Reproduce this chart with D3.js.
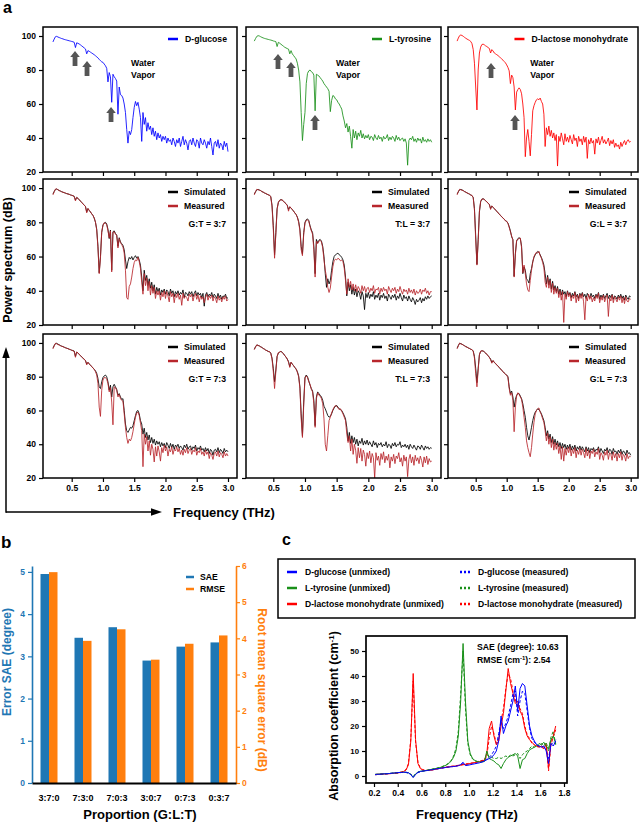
<!DOCTYPE html>
<html lang="en">
<head>
<meta charset="UTF-8">
<title>THz spectra figure</title>
<script src="https://d3js.org/d3.v7.min.js"></script>
<style>
  body { margin: 0; background: #fff; }
  svg text { font-weight: bold; }
</style>
</head>
<body>
<div id="chart"></div>
<script>
// ---- panel a: power spectra (dB), sampled every 0.02 THz from 0.20 to 3.00 ----
const F0 = 0.2, DF = 0.02;

const glucose = [
  96.5, 98.2, 99.6, 99.8, 99.4, 99.1, 98.8, 98.5, 98.3, 98.0,
  97.8, 97.6, 97.4, 97.2, 97.0, 96.8, 96.6, 96.3, 93.2, 96.0,
  95.7, 95.3, 94.8, 94.2, 93.6, 93.0, 92.4, 89.5, 91.4, 91.0,
  90.5, 90.0, 89.5, 89.0, 88.4, 87.8, 87.0, 86.3, 85.5, 84.8,
  84.5, 83.5, 82.5, 81.0, 73.0, 78.5, 76.0, 61.0, 77.5, 76.0,
  75.0, 73.5, 54.0, 70.0, 65.5, 65.0, 63.5, 60.0, 55.0, 45.0,
  37.0, 44.0, 42.0, 45.0, 52.0, 58.0, 61.5, 59.0, 61.0, 57.0,
  52.0, 38.0, 55.0, 48.0, 52.0, 44.0, 49.0, 45.0, 47.0, 42.0,
  46, 41, 44, 39, 43, 40, 42, 38, 41, 39,
  41, 37, 40, 38, 39, 36, 40, 38, 35, 39,
  37, 40, 35, 38, 41, 36, 39, 37, 33, 38,
  39, 36, 40, 37, 35, 39, 38, 34, 40, 37,
  36, 39, 37, 34, 38, 36, 40, 35, 30, 37,
  38, 35, 39, 34, 37, 36, 33, 38, 35, 37,
  32
];
const tyrosine = [
  97.0, 98.5, 99.8, 100.2, 100.0, 99.6, 99.2, 98.9, 98.6, 98.4,
  98.2, 98.0, 97.8, 97.6, 97.4, 97.1, 96.9, 96.7, 93.8, 96.3,
  95.8, 95.2, 94.6, 94.0, 93.4, 93.0, 92.6, 92.3, 89.5, 91.4,
  89.5, 88.5, 87.5, 86.5, 84.0, 80.0, 73.0, 55.0, 38.5, 48.0,
  55.0, 72.0, 78.0, 79.5, 80.0, 79.0, 78.5, 77.0, 56.0, 77.5,
  77.0, 76.5, 75.5, 74.5, 73.5, 72.0, 71.0, 70.0, 69.0, 67.5,
  55.5, 62.0, 65.0, 64.5, 63.0, 62.5, 61.0, 60.0, 58.5, 57.0,
  53.0, 50.0, 46.0, 48.5, 43.5, 47.0, 41.0, 34.0, 45.0, 40.0,
  44.0, 39.0, 43.0, 41.0, 44.5, 40.0, 42.5, 39.5, 41.5, 40.0,
  42.0, 39.0, 41.0, 40.5, 38.5, 42.0, 40.0, 39.0, 41.5, 39.5,
  40.5, 38.0, 41.0, 39.5, 40.0, 42.0, 38.5, 40.5, 39.0, 41.0,
  40.0, 38.0, 41.5, 39.0, 40.5, 38.5, 39.5, 40.0, 38.0, 39.5,
  37.0, 24.0, 38.5, 40.0, 39.0, 41.0, 38.0, 39.5, 37.5, 40.0,
  38.5, 39.5, 37.0, 40.5, 38.0, 39.0, 37.5, 39.5, 38.0, 39.0,
  37.5
];
const lactose = [
  97.0, 98.8, 100.2, 100.6, 100.3, 99.8, 99.2, 98.7, 98.2, 97.8,
  97.4, 96.8, 95.5, 92.0, 84.0, 70.0, 56.5, 80.0, 90.0, 93.5,
  95.0, 95.2, 94.8, 94.2, 93.8, 93.2, 92.7, 90.0, 92.0, 91.2,
  90.0, 89.5, 89.0, 88.5, 87.8, 87.2, 86.5, 85.8, 85.0, 84.2,
  83.0, 81.5, 79.5, 72.0, 77.0, 75.5, 70.0, 56.5, 67.0, 68.5,
  69.5, 68.5, 66.0, 60.0, 52.0, 29.0, 40.0, 45.0, 38.0, 29.5,
  42.0, 56.0, 59.0, 61.0, 62.5, 63.0, 62.5, 63.5, 61.5, 60.0,
  54.0, 35.0, 46.0, 42.0, 47.0, 41.0, 44.5, 40.0, 43.0, 38.5,
  42.0, 23.5, 41.0, 38.0, 43.0, 39.5, 36.0, 42.5, 38.0, 40.5,
  37.5, 41.5, 39.0, 36.5, 42.0, 38.5, 40.0, 35.0, 41.0, 38.0,
  39.5, 36.0, 41.0, 37.5, 40.5, 28.0, 39.0, 36.5, 40.0, 37.0,
  38.5, 30.5, 39.5, 37.0, 40.5, 36.0, 38.5, 41.0, 37.0, 39.0,
  36.5, 38.0, 40.0, 35.5, 38.5, 36.5, 39.0, 34.5, 37.0, 35.0,
  36.0, 33.5, 37.5, 35.0, 37.0, 38.5, 36.0, 38.0, 39.0, 37.5,
  38.0
];

const gt37Sim = [
  96.5, 98.0, 99.2, 99.4, 99.0, 98.6, 98.2, 97.9, 97.6, 97.3,
  97.0, 96.8, 96.6, 96.3, 96.0, 95.8, 95.5, 95.2, 93.0, 94.5,
  94.0, 93.2, 92.4, 91.6, 90.8, 90.0, 89.3, 86.0, 88.0, 87.0,
  86.0, 85.0, 84.0, 82.5, 80.0, 76.0, 66.0, 50.5, 60.0, 74.0,
  78.5, 79.5, 80.0, 79.0, 76.0, 70.5, 75.5, 52.0, 74.5, 75.0,
  73.5, 72.5, 66.0, 71.0, 68.5, 67.5, 66.5, 64.0, 58.0, 53.0,
  57.0, 59.5, 58.5, 60.0, 58.0, 59.5, 60.5, 59.0, 60.0, 58.0,
  55.0, 48.0, 40.0, 52.0, 46.0, 49.0, 43.0, 47.0, 41.5, 45.0,
  40.0, 43.5, 38.0, 42.0, 39.5, 41.5, 37.5, 40.5, 39.0, 41.0,
  38.0, 40.5, 39.5, 37.0, 41.0, 38.5, 40.0, 36.5, 39.5, 38.0,
  40.0, 37.5, 39.0, 38.0, 40.5, 36.0, 39.0, 38.5, 37.0, 39.5,
  38.0, 39.5, 36.5, 38.5, 40.0, 37.0, 39.0, 37.5, 38.5, 36.0,
  38.5, 31.0, 37.5, 39.0, 36.5, 38.0, 37.0, 39.0, 36.0, 38.0,
  37.0, 35.5, 38.5, 36.0, 37.5, 35.0, 37.0, 36.5, 38.0, 35.5,
  36.0
];
const gt37Meas = [
  96.0, 97.8, 99.4, 99.6, 99.0, 98.5, 98.3, 97.8, 97.5, 97.4,
  97.1, 96.7, 96.5, 96.4, 96.0, 95.7, 95.6, 95.0, 92.5, 94.6,
  93.9, 93.3, 92.3, 91.7, 90.7, 90.1, 89.2, 85.5, 88.1, 86.9,
  86.1, 84.9, 84.1, 82.4, 80.2, 75.5, 65.0, 50.0, 59.0, 74.5,
  78.0, 79.8, 79.5, 78.5, 75.0, 71.0, 75.0, 51.0, 74.0, 74.5,
  73.0, 72.5, 65.0, 70.5, 68.0, 67.0, 65.5, 62.0, 52.0, 36.0,
  35.0, 42.5, 44.0, 48.0, 53.0, 56.5, 58.0, 57.5, 59.5, 57.0,
  53.0, 45.0, 38.0, 50.0, 43.0, 47.5, 40.0, 45.5, 37.5, 43.0,
  38.5, 42.0, 35.5, 40.0, 37.5, 40.0, 34.5, 39.0, 36.5, 40.0,
  35.5, 39.5, 37.0, 33.5, 39.5, 36.5, 38.5, 33.0, 38.0, 36.0,
  38.5, 35.0, 37.5, 31.5, 38.5, 35.5, 37.0, 36.0, 34.0, 38.0,
  36.5, 38.0, 34.0, 37.0, 38.5, 35.0, 37.5, 33.5, 37.0, 35.0,
  36.5, 33.0, 36.0, 38.0, 34.5, 37.0, 35.5, 37.5, 34.0, 36.5,
  35.5, 33.0, 37.0, 34.5, 36.0, 33.5, 36.5, 35.0, 37.0, 34.0,
  35.0
];
const tl37Sim = [
  96.5, 97.8, 99.0, 99.2, 98.9, 98.5, 98.0, 97.6, 97.2, 96.8,
  96.4, 96.1, 95.8, 95.0, 90.0, 78.0, 61.0, 74.0, 88.0, 91.5,
  92.8, 93.3, 93.0, 92.3, 91.6, 90.9, 90.0, 87.5, 89.0, 88.3,
  87.5, 86.5, 85.5, 84.5, 83.0, 80.5, 76.0, 66.0, 61.5, 74.0,
  80.0, 81.5, 82.0, 81.0, 78.0, 75.5, 74.0, 66.0, 50.0, 70.0,
  68.0, 69.5, 70.0, 69.0, 66.0, 60.0, 50.0, 42.0, 47.0, 44.0,
  46.0, 52.0, 57.0, 60.0, 61.0, 61.5, 62.0, 61.0, 60.5, 59.5,
  58.0, 55.0, 48.0, 37.0, 45.0, 40.0, 43.5, 38.0, 42.0, 37.5,
  41.0, 36.5, 40.0, 38.5, 35.0, 39.5, 37.0, 29.0, 38.5, 36.0,
  39.0, 35.5, 38.0, 36.5, 39.5, 35.0, 37.5, 36.0, 38.5, 34.5,
  37.5, 36.0, 38.5, 35.5, 37.0, 34.0, 38.0, 36.5, 35.0, 37.5,
  36.0, 38.0, 34.5, 37.0, 35.5, 38.5, 36.0, 34.0, 37.5, 35.5,
  36.5, 34.0, 37.0, 35.0, 33.5, 36.0, 34.5, 32.0, 35.0, 33.5,
  34.5, 36.0, 33.0, 35.5, 34.0, 36.5, 35.0, 37.0, 35.5, 36.5,
  37.0
];
const tl37Meas = [
  96.0, 98.0, 99.3, 99.0, 98.7, 98.6, 97.8, 97.7, 97.1, 96.9,
  96.5, 96.0, 95.9, 94.8, 89.0, 76.0, 59.0, 73.0, 87.5, 91.8,
  92.9, 93.0, 93.2, 92.1, 91.7, 90.7, 89.9, 86.5, 89.1, 88.4,
  87.3, 86.6, 85.4, 84.6, 82.8, 80.0, 75.0, 64.0, 60.5, 73.0,
  79.5, 81.0, 81.5, 80.5, 77.5, 75.0, 73.0, 64.0, 48.0, 69.0,
  67.5, 69.0, 69.5, 68.5, 65.0, 58.0, 52.0, 48.0, 42.0, 39.0,
  41.5, 48.0, 54.0, 57.5, 58.5, 58.0, 59.0, 58.5, 57.5, 58.0,
  57.0, 53.0, 46.0, 38.0, 47.0, 42.0, 45.5, 40.5, 44.0, 40.0,
  43.5, 39.5, 42.5, 41.0, 38.5, 43.0, 40.0, 42.5, 39.0, 41.5,
  42.0, 39.0, 41.5, 40.0, 43.0, 38.5, 41.0, 40.5, 42.0, 38.0,
  41.5, 39.5, 42.0, 40.0, 41.0, 38.0, 42.5, 40.5, 39.0, 41.5,
  40.0, 42.0, 38.5, 41.0, 39.5, 42.5, 40.0, 38.0, 41.0, 39.5,
  40.5, 38.0, 41.5, 39.0, 40.5, 38.5, 41.0, 37.5, 40.0, 38.5,
  39.0, 41.0, 38.0, 40.5, 39.5, 41.5, 38.5, 40.0, 37.5, 39.5,
  39.5
];
const gl37Sim = [
  96.5, 97.8, 99.0, 99.2, 98.9, 98.5, 98.0, 97.6, 97.2, 96.8,
  96.4, 96.0, 95.6, 94.5, 88.0, 72.0, 55.5, 70.0, 86.0, 92.0,
  93.5, 93.8, 93.3, 92.6, 91.9, 91.2, 90.4, 88.0, 89.5, 88.8,
  88.0, 87.2, 86.4, 85.6, 84.8, 84.0, 83.2, 82.5, 81.8, 81.0,
  80.5, 79.5, 77.5, 75.0, 71.5, 70.0, 48.5, 62.0, 69.0, 70.5,
  71.0, 70.5, 66.0, 50.0, 54.0, 52.0, 47.0, 46.0, 44.5, 50.0,
  53.0, 57.0, 59.5, 61.0, 62.0, 63.0, 62.5, 61.0, 59.5, 57.5,
  55.0, 50.0, 44.0, 49.0, 43.5, 47.0, 41.0, 45.5, 40.5, 43.0,
  39.5, 42.5, 38.0, 41.0, 37.5, 40.5, 38.0, 39.5, 36.5, 40.0,
  37.5, 39.0, 36.0, 38.5, 37.0, 39.5, 36.5, 38.0, 35.5, 38.5,
  37.0, 39.0, 36.5, 38.0, 35.5, 38.5, 37.0, 36.0, 38.5, 36.5,
  37.5, 35.5, 38.0, 36.5, 39.0, 35.0, 37.5, 36.0, 38.0, 35.5,
  37.0, 38.5, 35.5, 37.5, 36.0, 38.0, 35.0, 37.0, 36.5, 35.0,
  37.5, 36.0, 38.0, 35.5, 37.0, 34.5, 37.5, 36.0, 35.0, 37.0,
  36.5
];
const gl37Meas = [
  96.0, 98.0, 99.3, 99.0, 98.7, 98.6, 97.8, 97.7, 97.1, 96.9,
  96.5, 95.9, 95.7, 94.3, 87.0, 70.0, 55.0, 69.0, 86.5, 92.3,
  93.6, 93.6, 93.4, 92.5, 92.0, 91.1, 90.5, 87.5, 89.6, 88.7,
  88.1, 87.1, 86.5, 85.5, 84.9, 83.9, 83.3, 82.4, 81.9, 80.8,
  80.6, 79.4, 77.0, 74.5, 72.0, 69.5, 48.0, 61.0, 69.5, 70.0,
  70.5, 70.8, 65.0, 50.5, 55.0, 50.0, 44.0, 40.5, 39.5, 46.0,
  52.0, 56.5, 60.0, 61.5, 62.5, 62.0, 63.0, 60.5, 59.0, 56.5,
  53.5, 45.0, 42.0, 48.0, 41.5, 46.0, 39.0, 44.5, 38.0, 42.0,
  38.5, 41.5, 36.0, 40.0, 34.5, 39.5, 21.5, 38.0, 35.0, 39.5,
  36.5, 38.5, 34.0, 37.5, 35.5, 39.0, 33.0, 37.5, 34.0, 38.0,
  35.5, 38.5, 33.5, 23.0, 36.5, 34.0, 38.0, 35.0, 37.0, 33.5,
  36.0, 34.0, 37.5, 35.5, 38.5, 33.0, 36.5, 34.5, 37.5, 33.5,
  36.0, 37.5, 25.0, 36.0, 34.0, 37.5, 33.0, 36.5, 35.0, 33.5,
  36.5, 34.5, 37.0, 33.0, 36.0, 32.5, 36.5, 34.0, 33.5, 35.5,
  35.0
];
const gt73Sim = [
  96.9, 98.5, 99.6, 99.8, 99.3, 98.9, 98.5, 98.1, 97.8, 97.5,
  97.2, 96.9, 96.6, 96.3, 96.0, 95.7, 95.5, 95.2, 92.0, 94.6,
  94.0, 93.3, 92.5, 91.7, 91.0, 90.3, 89.6, 87.5, 88.5, 87.6,
  86.8, 86.0, 85.2, 84.4, 83.5, 82.0, 79.0, 74.0, 73.0, 77.0,
  79.5, 80.5, 81.0, 80.0, 77.0, 72.0, 75.0, 68.0, 74.0, 75.5,
  74.0, 72.5, 69.0, 70.0, 68.0, 66.5, 67.0, 60.0, 52.0, 48.0,
  47.0, 48.5, 50.0, 49.5, 51.0, 54.0, 57.0, 59.5, 60.0, 58.0,
  54.0, 52.0, 46.0, 49.5, 44.0, 47.0, 42.5, 45.5, 41.0, 44.0,
  40.5, 43.0, 39.5, 42.0, 40.0, 41.5, 38.5, 41.0, 39.0, 40.5,
  38.0, 41.0, 39.5, 37.5, 40.5, 38.0, 40.0, 37.0, 39.5, 38.5,
  40.0, 37.5, 39.0, 38.0, 36.5, 39.5, 38.0, 40.0, 37.0, 38.5,
  39.0, 36.5, 38.5, 37.5, 39.5, 36.0, 38.0, 37.0, 39.0, 36.5,
  37.5, 35.5, 38.0, 36.0, 37.5, 34.5, 37.0, 36.0, 33.5, 36.5,
  37.0, 35.5, 38.0, 35.0, 37.0, 36.0, 34.5, 37.5, 35.5, 36.5,
  35.5
];
const gt73Meas = [
  96.5, 98.2, 99.8, 99.5, 99.0, 98.8, 98.3, 98.0, 97.9, 97.4,
  97.1, 96.8, 96.7, 96.2, 96.1, 95.6, 95.4, 95.0, 91.5, 94.7,
  93.9, 93.4, 92.4, 91.8, 90.9, 90.4, 89.5, 87.0, 88.6, 87.5,
  86.9, 85.9, 85.3, 84.3, 83.0, 81.0, 76.0, 62.0, 56.5, 72.0,
  78.0, 79.5, 79.5, 78.5, 76.0, 71.0, 73.5, 65.0, 51.5, 74.0,
  73.5, 72.0, 68.0, 69.5, 67.0, 66.0, 65.5, 58.0, 50.0, 44.0,
  40.5, 43.0, 42.0, 44.0, 47.5, 52.0, 56.0, 58.5, 59.0, 57.0,
  52.5, 48.0, 26.7, 46.0, 40.0, 44.5, 36.0, 42.0, 33.5, 40.0,
  37.0, 29.5, 38.5, 33.0, 39.0, 35.5, 30.0, 38.0, 35.0, 39.5,
  36.0, 38.5, 33.0, 37.0, 35.5, 38.5, 34.0, 37.0, 36.0, 38.5,
  35.5, 37.5, 34.0, 36.5, 33.5, 37.0, 35.0, 38.0, 34.5, 36.5,
  37.5, 34.0, 36.5, 35.5, 38.0, 33.5, 36.0, 35.0, 37.5, 34.0,
  35.5, 33.0, 36.5, 34.0, 35.5, 31.5, 35.0, 33.5, 31.0, 34.5,
  35.5, 33.0, 36.0, 32.5, 35.0, 34.0, 32.0, 35.5, 33.0, 34.5,
  33.0
];
const tl73Sim = [
  96.3, 97.8, 98.8, 98.6, 98.2, 97.8, 97.3, 96.8, 96.3, 95.8,
  95.4, 95.0, 94.8, 94.0, 91.0, 85.0, 77.0, 84.0, 92.0, 94.0,
  94.6, 95.0, 94.5, 93.6, 92.6, 91.6, 90.5, 89.0, 86.0, 88.5,
  87.5, 86.5, 85.5, 84.5, 83.0, 80.5, 74.0, 58.0, 45.0, 65.0,
  79.6, 81.0, 80.0, 77.5, 75.0, 73.0, 71.5, 66.0, 51.0, 68.0,
  71.0, 70.0, 69.0, 68.0, 66.0, 62.5, 61.0, 59.0, 57.0, 56.0,
  56.5, 58.0, 60.0, 61.5, 62.5, 63.0, 62.0, 61.0, 60.5, 60.0,
  58.5, 57.0, 55.0, 50.0, 42.0, 47.0, 40.5, 45.0, 41.0, 44.0,
  40.0, 43.0, 39.0, 42.0, 40.5, 43.5, 39.5, 42.0, 40.0, 42.5,
  39.5, 41.5, 40.0, 38.5, 42.0, 39.5, 41.0, 38.0, 40.5, 39.5,
  41.0, 38.5, 40.0, 39.0, 41.5, 38.0, 40.0, 39.5, 37.5, 40.5,
  39.0, 41.0, 38.5, 40.0, 39.5, 41.5, 38.0, 39.5, 38.5, 40.0,
  38.0, 39.5, 37.0, 40.0, 38.5, 37.5, 39.5, 38.0, 36.5, 39.0,
  38.5, 37.0, 39.5, 38.0, 36.5, 39.0, 37.5, 38.5, 37.0, 38.0,
  37.6
];
const tl73Meas = [
  96.0, 97.6, 98.9, 98.4, 98.3, 97.6, 97.4, 96.6, 96.4, 95.7,
  95.5, 94.9, 94.9, 93.8, 90.5, 83.0, 73.0, 83.0, 92.0, 94.3,
  94.5, 95.1, 94.3, 93.7, 92.5, 91.7, 90.4, 88.5, 85.5, 88.6,
  87.4, 86.6, 85.4, 84.6, 82.5, 80.0, 73.0, 55.0, 44.0, 63.0,
  79.0, 80.5, 79.5, 77.0, 75.5, 72.5, 71.0, 64.0, 50.0, 67.0,
  70.5, 69.0, 68.5, 67.0, 64.0, 55.0, 40.0, 36.0, 45.0, 54.0,
  56.0, 58.5, 60.5, 62.0, 63.0, 62.5, 61.5, 60.5, 61.0, 59.5,
  58.0, 56.0, 54.0, 46.0, 41.0, 45.0, 36.0, 43.0, 34.0, 40.0,
  36.5, 28.7, 38.0, 32.0, 37.5, 30.0, 36.5, 34.0, 27.0, 35.0,
  31.5, 36.0, 29.0, 34.5, 32.0, 20.0, 35.0, 30.5, 33.0, 27.5,
  34.5, 31.0, 35.5, 29.0, 33.0, 30.5, 34.0, 26.0, 32.5, 30.0,
  34.0, 28.5, 33.0, 31.5, 35.0, 29.5, 32.0, 27.0, 33.5, 30.0,
  32.5, 20.8, 31.0, 34.0, 29.0, 32.5, 27.5, 33.5, 30.0, 32.0,
  28.5, 33.0, 30.5, 26.5, 32.5, 29.0, 33.0, 28.0, 31.5, 29.5,
  30.0
];
const gl73Sim = [
  96.9, 98.5, 99.8, 99.6, 99.2, 98.8, 98.3, 97.9, 97.5, 97.1,
  96.7, 96.3, 96.0, 95.2, 92.0, 85.0, 76.5, 85.0, 93.0, 95.0,
  95.4, 95.2, 94.7, 94.0, 93.2, 92.4, 91.5, 90.5, 88.5, 89.5,
  88.5, 87.8, 87.0, 86.2, 85.5, 84.6, 83.8, 83.0, 82.2, 81.5,
  81.0, 80.0, 74.0, 70.0, 71.5, 68.0, 62.0, 66.5, 69.0, 70.0,
  70.0, 68.5, 67.0, 64.0, 60.0, 56.0, 50.0, 45.0, 42.5, 46.0,
  50.0, 54.0, 57.0, 59.0, 60.0, 61.0, 60.5, 59.5, 58.0, 56.0,
  54.0, 50.0, 45.0, 48.0, 43.0, 46.0, 41.0, 44.5, 40.0, 43.0,
  39.5, 42.0, 38.5, 41.0, 37.5, 40.5, 38.0, 40.0, 37.0, 39.5,
  37.5, 40.0, 36.5, 39.0, 37.0, 39.5, 36.0, 38.5, 37.0, 39.0,
  36.5, 38.5, 37.0, 35.5, 38.5, 36.0, 38.0, 35.0, 37.5, 36.5,
  38.0, 35.5, 37.0, 36.5, 38.5, 35.0, 37.5, 36.0, 34.5, 37.0,
  36.0, 38.0, 35.0, 37.0, 36.5, 34.0, 37.5, 35.5, 36.0, 34.0,
  36.5, 35.0, 37.0, 34.0, 36.0, 35.5, 33.5, 36.5, 34.5, 35.0,
  33.5
];
const gl73Meas = [
  96.5, 98.3, 99.9, 99.4, 99.3, 98.6, 98.4, 97.7, 97.6, 96.9,
  96.8, 96.2, 96.1, 95.0, 91.0, 82.0, 74.0, 84.0, 93.0, 95.2,
  95.3, 95.3, 94.6, 94.1, 93.1, 92.5, 91.4, 90.0, 88.0, 89.6,
  88.4, 87.9, 86.9, 86.3, 85.4, 84.7, 83.7, 83.1, 82.1, 81.6,
  80.8, 79.5, 73.0, 69.0, 70.5, 66.0, 47.4, 62.0, 68.5, 70.5,
  69.5, 68.0, 66.5, 62.0, 56.0, 50.0, 42.0, 38.0, 35.0, 32.6,
  38.0, 46.0, 53.0, 58.0, 60.0, 61.0, 61.5, 59.0, 57.5, 55.0,
  53.0, 48.0, 42.0, 46.5, 40.0, 44.5, 38.0, 43.0, 36.5, 41.0,
  37.0, 40.5, 34.5, 39.0, 31.0, 38.5, 30.0, 37.5, 33.5, 38.0,
  35.0, 38.5, 33.0, 37.0, 34.5, 38.0, 32.0, 36.5, 34.0, 37.5,
  33.5, 37.0, 35.0, 32.0, 37.5, 33.0, 36.5, 31.5, 36.0, 34.5,
  37.0, 32.5, 35.5, 34.0, 37.5, 31.0, 35.0, 33.5, 30.5, 35.5,
  33.5, 36.5, 31.0, 35.0, 34.0, 30.5, 35.5, 32.0, 34.5, 30.0,
  34.5, 32.0, 35.5, 30.5, 34.0, 33.0, 30.0, 34.5, 31.5, 33.0,
  32.6
];

// water-vapor arrow tips [THz, dB]
const arrowsGlucose = [[0.553, 91.2], [0.745, 85.3], [1.129, 58.2]];
const arrowsTyrosine = [[0.574, 89.4], [0.779, 84.7], [1.158, 53.5]];
const arrowsLactose = [[0.747, 84.1], [1.134, 53.5]];
const freqTicksA = [0.5, 1.0, 1.5, 2.0, 2.5, 3.0];
const dbTicks = [20, 40, 60, 80, 100];

// ---- panel b: errors per mixture ----
const proportions = ["3:7:0", "7:3:0", "7:0:3", "3:0:7", "0:7:3", "0:3:7"];
const sae = [4.95, 3.44, 3.69, 2.90, 3.23, 3.33];
const rmse = [5.83, 3.93, 4.25, 3.41, 3.85, 4.08];
const saeTicks = [0, 1, 2, 3, 4, 5];
const rmseTicks = [0, 1, 2, 3, 4, 5, 6];

// ---- panel c: absorption coefficient (cm-1), every 0.02 THz from 0.21 to 1.73 ----
const C0 = 0.21, DC = 0.02;
const cGlucose = [
  0.6, 0.7, 0.7, 0.8, 0.9, 0.9, 1.0, 1.1, 1.2, 1.3,
  1.4, 1.4, 1.5, 1.5, 1.3, 0.5, -0.6, 0.6, 1.5, 1.8,
  2.0, 2.1, 2.2, 2.4, 2.5, 2.7, 2.9, 3.0, 3.2, 3.3,
  3.5, 3.6, 3.7, 3.8, 3.9, 4.1, 4.6, 5.5, 4.2, 4.3,
  4.5, 4.7, 4.9, 5.1, 5.3, 5.6, 6.0, 6.5, 7.0, 7.5,
  8.5, 10.0, 14.0, 24.0, 17.0, 20.0, 22.0, 26.0, 30.0, 36.0,
  26.0, 35.0, 37.0, 36.0, 28.0, 20.0, 16.0, 14.0, 12.5, 12.0,
  11.5, 12.0, 10.0, 5.0, 13.0, 12.0, 14.0
];
const cGlucoseMeas = [
  0.5, 0.6, 0.7, 0.8, 0.8, 0.9, 1.0, 1.1, 1.1, 1.2,
  1.3, 1.4, 1.4, 1.4, 1.2, 0.6, -0.3, 0.7, 1.4, 1.7,
  1.9, 2.1, 2.2, 2.3, 2.5, 2.6, 2.8, 3.0, 3.1, 3.3,
  3.4, 3.6, 3.7, 3.8, 4.0, 4.2, 4.4, 5.0, 4.4, 4.5,
  4.7, 4.9, 5.1, 5.3, 5.5, 5.8, 6.2, 6.8, 7.5, 8.5,
  10.0, 12.0, 17.0, 22.0, 19.0, 21.0, 24.0, 28.0, 33.0, 34.0,
  24.0, 30.0, 34.0, 33.0, 26.0, 19.0, 15.0, 13.5, 12.5, 11.5,
  12.0, 11.5, 11.0, 7.0, 12.5, 13.5, 14.5
];
const cTyrosine = [
  0.7, 0.7, 0.8, 0.8, 0.9, 1.0, 1.0, 1.1, 1.2, 1.3,
  1.4, 1.5, 1.5, 1.5, 1.3, 0.6, -0.5, 0.8, 1.6, 1.9,
  2.0, 2.1, 2.3, 2.5, 2.7, 2.9, 3.1, 3.3, 3.6, 4.0,
  4.4, 5.0, 6.0, 7.5, 10.0, 16.0, 30.0, 53.0, 30.0, 14.0,
  9.0, 7.0, 6.2, 5.8, 5.6, 5.6, 5.8, 10.0, 7.0, 6.5,
  6.0, 5.0, 4.5, 3.0, 5.0, 6.5, 7.5, 8.0, 8.5, 9.0,
  8.0, 3.0, 6.5, 7.0, 9.0, 10.5, 11.0, 11.5, 12.0, 13.0,
  12.5, 13.5, 12.0, 11.0, 14.5, 16.0, 13.0
];
const cTyrosineMeas = [
  0.6, 0.7, 0.7, 0.8, 0.9, 0.9, 1.0, 1.1, 1.2, 1.2,
  1.3, 1.4, 1.5, 1.4, 1.2, 0.7, -0.2, 0.9, 1.5, 1.8,
  2.0, 2.2, 2.4, 2.6, 2.8, 3.0, 3.2, 3.4, 3.7, 4.1,
  4.6, 5.2, 6.3, 8.0, 11.0, 18.0, 33.0, 50.0, 27.0, 13.0,
  8.5, 6.8, 6.0, 5.8, 5.7, 5.9, 6.2, 8.5, 8.0, 7.5,
  7.0, 7.0, 7.5, 7.0, 7.5, 8.0, 7.5, 8.5, 8.0, 8.5,
  9.0, 7.0, 8.5, 9.5, 10.0, 11.0, 12.0, 11.5, 12.5, 12.0,
  13.0, 12.0, 13.5, 10.0, 15.5, 18.0, 12.5
];
const cLactose = [
  0.6, 0.7, 0.7, 0.8, 0.8, 0.9, 0.9, 1.0, 1.1, 1.2,
  1.3, 1.5, 1.8, 2.4, 4.5, 14.0, 41.0, 14.5, 5.0, 3.0,
  2.4, 2.2, 2.2, 2.3, 2.4, 2.6, 2.8, 3.0, 3.2, 3.4,
  3.5, 3.6, 3.8, 3.9, 4.0, 4.2, 4.3, 4.5, 4.6, 4.8,
  5.0, 5.2, 5.4, 5.6, 5.8, 6.0, 6.3, 9.0, 19.0, 22.0,
  16.0, 12.5, 14.0, 20.0, 25.0, 34.0, 43.0, 37.0, 33.0, 29.0,
  30.0, 26.0, 24.0, 19.0, 16.0, 14.5, 13.5, 12.5, 12.0, 11.5,
  12.0, 11.0, 12.5, 3.0, 14.0, 16.0, 20.0
];
const cLactoseMeas = [
  0.5, 0.6, 0.7, 0.7, 0.8, 0.9, 1.0, 1.0, 1.1, 1.2,
  1.4, 1.6, 1.9, 2.6, 5.0, 15.0, 38.0, 13.5, 5.5, 3.2,
  2.6, 2.3, 2.3, 2.4, 2.5, 2.7, 2.9, 3.1, 3.3, 3.5,
  3.6, 3.7, 3.9, 4.0, 4.1, 4.3, 4.5, 4.6, 4.8, 5.0,
  5.1, 5.3, 5.5, 5.8, 6.0, 6.2, 6.5, 8.0, 15.0, 20.0,
  17.0, 13.0, 15.0, 22.0, 27.0, 35.0, 41.0, 39.0, 34.0, 30.5,
  28.0, 27.0, 25.0, 20.0, 16.5, 15.0, 13.0, 12.5, 11.5, 12.0,
  11.5, 11.0, 13.0, 2.0, 12.5, 15.5, 18.5
];
const freqTicksC = [0.2, 0.4, 0.6, 0.8, 1.0, 1.2, 1.4, 1.6, 1.8];
const absTicks = [0, 10, 20, 30, 40, 50];

// ---------------------------------------------------------------
const FONT = '"Liberation Sans", Arial, Helvetica, sans-serif';
const BLUE = "#0000ff", GREEN = "#1a901a", RED = "#ff0000";
const SIM = "#000000", MEAS = "#b8262c";
const BAR_BLUE = "#1f77b4", BAR_ORANGE = "#ff7f0e";

const freqA = glucose.map((_, i) => Math.round((F0 + i * DF) * 100) / 100);
const freqC = cGlucose.map((_, i) => Math.round((C0 + i * DC) * 100) / 100);

const svg = d3.select("#chart").append("svg")
  .attr("width", 640).attr("height", 823)
  .style("font-family", FONT);

function styleAxis(g, size, color) {
  g.attr("font-family", FONT).attr("font-size", size).attr("font-weight", "bold");
  g.selectAll(".tick line").attr("stroke-width", 1.2);
  if (color) {
    g.selectAll(".tick line").attr("stroke", color);
    g.selectAll(".tick text").attr("fill", color);
  }
}

// ===================== panel a =====================
const colsA = [
  {left: 43, right: 237, x05: 71.7, x30: 228},
  {left: 246, right: 441, x05: 273.3, x30: 431.7},
  {left: 448, right: 638, x05: 475.7, x30: 630.7}
];
const rowsA = [
  {top: 27, bottom: 172},
  {top: 179, bottom: 325},
  {top: 334, bottom: 478}
];

const panelsA = [
  {row: 0, col: 0, lines: [[glucose, BLUE]], legend: ["D-glucose", BLUE], arrows: arrowsGlucose, vapor: [1.45, 84]},
  {row: 0, col: 1, lines: [[tyrosine, GREEN]], legend: ["L-tyrosine", GREEN], arrows: arrowsTyrosine, vapor: [1.49, 84]},
  {row: 0, col: 2, lines: [[lactose, RED]], legend: ["D-lactose monohydrate", RED], arrows: arrowsLactose, vapor: [1.38, 84]},
  {row: 1, col: 0, lines: [[gt37Sim, SIM], [gt37Meas, MEAS]], ratio: "G:T = 3:7"},
  {row: 1, col: 1, lines: [[tl37Sim, SIM], [tl37Meas, MEAS]], ratio: "T:L = 3:7"},
  {row: 1, col: 2, lines: [[gl37Sim, SIM], [gl37Meas, MEAS]], ratio: "G:L = 3:7"},
  {row: 2, col: 0, lines: [[gt73Sim, SIM], [gt73Meas, MEAS]], ratio: "G:T = 7:3"},
  {row: 2, col: 1, lines: [[tl73Sim, SIM], [tl73Meas, MEAS]], ratio: "T:L = 7:3"},
  {row: 2, col: 2, lines: [[gl73Sim, SIM], [gl73Meas, MEAS]], ratio: "G:L = 7:3"}
];

panelsA.forEach(p => {
  const col = colsA[p.col], row = rowsA[p.row];
  const x = d3.scaleLinear().domain([0.5, 3]).range([col.x05, col.x30]);
  const y = d3.scaleLinear().domain([20, 105.3]).range([row.bottom, row.top]);
  const g = svg.append("g");

  const gx = g.append("g").attr("transform", `translate(0,${row.bottom})`)
    .call(d3.axisBottom(x).tickValues(freqTicksA).tickSize(4).tickSizeOuter(0)
      .tickFormat(p.row === 2 ? d3.format(".1f") : () => ""));
  gx.select(".domain").remove();
  styleAxis(gx, 8.5);

  const gy = g.append("g").attr("transform", `translate(${col.left},0)`)
    .call(d3.axisLeft(y).tickValues(dbTicks).tickSize(4).tickSizeOuter(0)
      .tickFormat(p.col === 0 ? d3.format("d") : () => ""));
  gy.select(".domain").remove();
  styleAxis(gy, 8.5);

  const line = d3.line().x((d, i) => x(freqA[i])).y(d => y(d));
  p.lines.forEach(([vals, color]) => {
    g.append("path").datum(vals)
      .attr("d", line)
      .attr("fill", "none")
      .attr("stroke", color)
      .attr("stroke-width", 0.85)
      .attr("stroke-linejoin", "round");
  });

  g.append("rect")
    .attr("x", col.left).attr("y", row.top)
    .attr("width", col.right - col.left).attr("height", row.bottom - row.top)
    .attr("fill", "none").attr("stroke", "#000").attr("stroke-width", 1.5);

  if (p.legend) {
    const t = g.append("text")
      .attr("x", col.right - 10).attr("y", row.top + 12).attr("dy", "0.35em")
      .attr("text-anchor", "end").attr("font-size", 8.7)
      .text(p.legend[0]);
    const w = t.node().getComputedTextLength();
    g.append("line")
      .attr("x1", col.right - 10 - w - 17).attr("x2", col.right - 10 - w - 7)
      .attr("y1", row.top + 12).attr("y2", row.top + 12)
      .attr("stroke", p.legend[1]).attr("stroke-width", 2.5);

    const vt = g.append("text")
      .attr("x", x(p.vapor[0])).attr("y", y(p.vapor[1]))
      .attr("dy", "0.35em").attr("font-size", 8.7);
    vt.append("tspan").text("Water");
    vt.append("tspan").attr("x", x(p.vapor[0])).attr("dy", 12).text("Vapor");

    g.selectAll(".warrow").data(p.arrows).enter().append("path")
      .attr("class", "warrow")
      .attr("transform", d => `translate(${x(d[0])},${y(d[1])})`)
      .attr("d", "M0,0 L4.8,6 L2.4,6 L2.4,15 L-2.4,15 L-2.4,6 L-4.8,6 Z")
      .attr("fill", "#555");
  }

  if (p.ratio) {
    [["Simulated", SIM, 13], ["Measured", MEAS, 27]].forEach(([lab, c, dy]) => {
      g.append("line")
        .attr("x1", col.right - 69).attr("x2", col.right - 59)
        .attr("y1", row.top + dy).attr("y2", row.top + dy)
        .attr("stroke", c).attr("stroke-width", 2.5);
      g.append("text")
        .attr("x", col.right - 53).attr("y", row.top + dy).attr("dy", "0.35em")
        .attr("font-size", 8.7).text(lab);
    });
    g.append("text")
      .attr("x", col.right - 11).attr("y", row.top + 45).attr("dy", "0.35em")
      .attr("text-anchor", "end").attr("font-size", 8.7).text(p.ratio);
  }
});

// shared axis titles and arrows of panel a
svg.append("text").attr("x", 3).attr("y", 13).attr("font-size", 16).text("a");
svg.append("text")
  .attr("transform", "translate(12,260) rotate(-90)")
  .attr("text-anchor", "middle").attr("font-size", 12.5)
  .text("Power spectrum (dB)");
svg.append("line").attr("x1", 6).attr("y1", 512).attr("x2", 152).attr("y2", 512)
  .attr("stroke", "#000").attr("stroke-width", 1.5);
svg.append("path").attr("d", "M151,508.3 L162,512 L151,515.7 Z").attr("fill", "#000");
svg.append("line").attr("x1", 6).attr("y1", 512.7).attr("x2", 6).attr("y2", 357)
  .attr("stroke", "#000").attr("stroke-width", 1.5);
svg.append("path").attr("d", "M2.3,358 L6,347 L9.7,358 Z").attr("fill", "#000");
svg.append("text").attr("x", 173).attr("y", 517).attr("font-size", 13).text("Frequency (THz)");

// ===================== panel b =====================
svg.append("text").attr("x", 1).attr("y", 548).attr("font-size", 17).text("b");

const xB = d3.scaleBand().domain(proportions).range([32, 236]).paddingInner(0.5).paddingOuter(0.25);
const ySae = d3.scaleLinear().domain([0, 5.14]).range([783, 566]);
const yRmse = d3.scaleLinear().domain([0, 6]).range([783, 566]);
const half = xB.bandwidth() / 2;

svg.append("g").selectAll("rect").data(proportions).enter().append("rect")
  .attr("x", d => xB(d))
  .attr("y", (d, i) => ySae(sae[i]))
  .attr("width", half)
  .attr("height", (d, i) => ySae(0) - ySae(sae[i]))
  .attr("fill", BAR_BLUE);
svg.append("g").selectAll("rect").data(proportions).enter().append("rect")
  .attr("x", d => xB(d) + half)
  .attr("y", (d, i) => yRmse(rmse[i]))
  .attr("width", half)
  .attr("height", (d, i) => yRmse(0) - yRmse(rmse[i]))
  .attr("fill", BAR_ORANGE);

const gbl = svg.append("g").attr("transform", "translate(32,0)")
  .call(d3.axisLeft(ySae).tickValues(saeTicks).tickFormat(d3.format("d")).tickSize(4).tickSizeOuter(0));
styleAxis(gbl, 8.5, BAR_BLUE);
gbl.select(".domain").attr("stroke", BAR_BLUE).attr("stroke-width", 1.6);

const gbr = svg.append("g").attr("transform", "translate(236,0)")
  .call(d3.axisRight(yRmse).tickValues(rmseTicks).tickFormat(d3.format("d")).tickSize(4).tickSizeOuter(0).tickPadding(2));
styleAxis(gbr, 8.5, BAR_ORANGE);
gbr.select(".domain").attr("stroke", BAR_ORANGE).attr("stroke-width", 1.6);

const gbx = svg.append("g").attr("transform", "translate(0,783)")
  .call(d3.axisBottom(xB).tickSize(0).tickPadding(12));
styleAxis(gbx, 9);
gbx.select(".domain").attr("stroke-width", 2);

[["SAE", BAR_BLUE, 577], ["RMSE", BAR_ORANGE, 589]].forEach(([lab, c, yy]) => {
  svg.append("line").attr("x1", 186).attr("x2", 194).attr("y1", yy).attr("y2", yy)
    .attr("stroke", c).attr("stroke-width", 2.5);
  svg.append("text").attr("x", 200).attr("y", yy).attr("dy", "0.35em")
    .attr("font-size", 8.7).text(lab);
});

svg.append("text")
  .attr("transform", "translate(11,662) rotate(-90)")
  .attr("text-anchor", "middle").attr("font-size", 12).attr("fill", BAR_BLUE)
  .text("Error SAE (degree)");
svg.append("text")
  .attr("transform", "translate(258,690) rotate(90)")
  .attr("text-anchor", "middle").attr("font-size", 12).attr("fill", BAR_ORANGE)
  .text("Root mean square error (dB)");
svg.append("text").attr("x", 140).attr("y", 819).attr("text-anchor", "middle")
  .attr("font-size", 13).text("Proportion (G:L:T)");

// ===================== panel c =====================
svg.append("text").attr("x", 282).attr("y", 545).attr("font-size", 16).text("c");

svg.append("rect").attr("x", 278).attr("y", 559).attr("width", 357).attr("height", 59)
  .attr("fill", "none").attr("stroke", "#000").attr("stroke-width", 1.5);

const legendC = [
  ["D-glucose (unmixed)", BLUE, false, 0, 572],
  ["L-tyrosine (unmixed)", GREEN, false, 0, 588],
  ["D-lactose monohydrate (unmixed)", RED, false, 0, 604],
  ["D-glucose (measured)", BLUE, true, 1, 572],
  ["L-tyrosine (measured)", GREEN, true, 1, 588],
  ["D-lactose monohydrate (measured)", RED, true, 1, 604]
];
legendC.forEach(([lab, c, dashed, column, yy]) => {
  const x0 = column === 0 ? 287 : 460;
  svg.append("line").attr("x1", x0).attr("x2", x0 + 10).attr("y1", yy).attr("y2", yy)
    .attr("stroke", c).attr("stroke-width", 2.5)
    .attr("stroke-dasharray", dashed ? "2,2" : null);
  svg.append("text").attr("x", x0 + 18).attr("y", yy).attr("dy", "0.35em")
    .attr("font-size", 8.6).text(lab);
});

const xC = d3.scaleLinear().domain([0.2, 1.8]).range([374, 564]);
const yC = d3.scaleLinear().domain([0, 50]).range([776, 651]);
const lineC = d3.line().x((d, i) => xC(freqC[i])).y(d => yC(d));

const gcx = svg.append("g").attr("transform", "translate(0,783)")
  .call(d3.axisBottom(xC).tickValues(freqTicksC).tickSize(4).tickFormat(d3.format(".1f")));
gcx.select(".domain").remove();
styleAxis(gcx, 8.5);
const gcy = svg.append("g").attr("transform", "translate(366,0)")
  .call(d3.axisLeft(yC).tickValues(absTicks).tickSize(4));
gcy.select(".domain").remove();
styleAxis(gcy, 7.8);

[
  [cLactoseMeas, RED, true], [cTyrosineMeas, GREEN, true], [cGlucoseMeas, BLUE, true],
  [cLactose, RED, false], [cTyrosine, GREEN, false], [cGlucose, BLUE, false]
].forEach(([vals, c, dashed]) => {
  svg.append("path").datum(vals)
    .attr("d", lineC)
    .attr("fill", "none")
    .attr("stroke", c)
    .attr("stroke-width", 1)
    .attr("stroke-dasharray", dashed ? "3,2" : null)
    .attr("stroke-linejoin", "round");
});

svg.append("rect").attr("x", 366).attr("y", 636).attr("width", 201).attr("height", 147)
  .attr("fill", "none").attr("stroke", "#000").attr("stroke-width", 1.7);

svg.append("text").attr("x", 477).attr("y", 650).attr("font-size", 8.7).text("SAE (degree): 10.63");
const rm = svg.append("text").attr("x", 477).attr("y", 663).attr("font-size", 8.7);
rm.append("tspan").text("RMSE (cm");
rm.append("tspan").attr("dy", -3).attr("font-size", 6).text("-1");
rm.append("tspan").attr("dy", 3).text("): 2.54");

const yt = svg.append("text")
  .attr("transform", "translate(338,716) rotate(-90)")
  .attr("text-anchor", "middle").attr("font-size", 12.5);
yt.append("tspan").text("Absorption coefficient (cm");
yt.append("tspan").attr("dy", -4).attr("font-size", 8).text("-1");
yt.append("tspan").attr("dy", 4).text(")");

svg.append("text").attr("x", 467).attr("y", 819).attr("text-anchor", "middle")
  .attr("font-size", 13).text("Frequency (THz)");
</script>
</body>
</html>
